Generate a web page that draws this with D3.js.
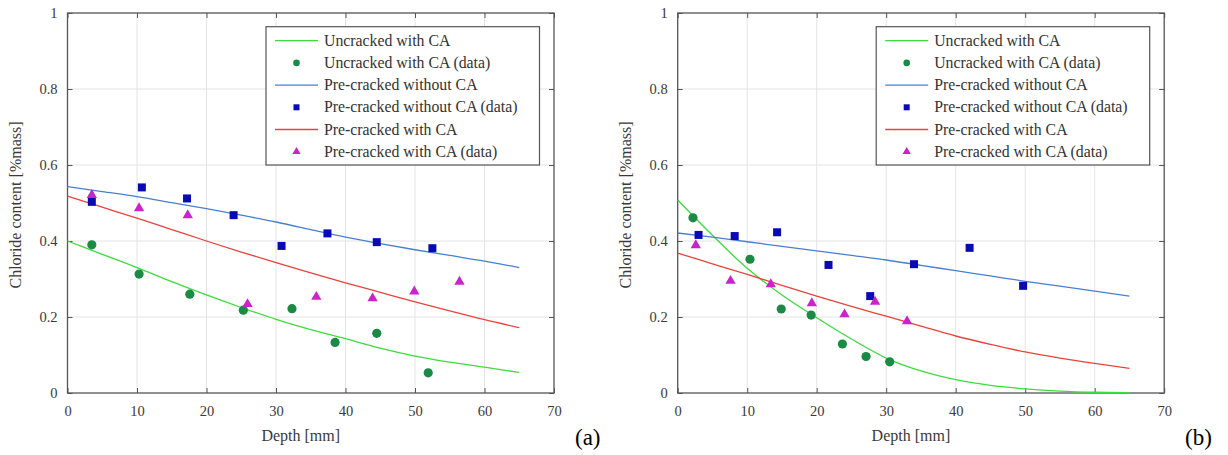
<!DOCTYPE html>
<html>
<head>
<meta charset="utf-8">
<script src="https://cdn.jsdelivr.net/npm/d3@7"></script>
<style>
  html, body { margin: 0; padding: 0; background: #ffffff; }
  svg { display: block; }
</style>
</head>
<body>
<svg id="chart" width="1228" height="455"></svg>
<script>
// ---------- Tick labels ----------
const depthTicks = [0, 10, 20, 30, 40, 50, 60, 70];
const chlorideTicks = [0, 0.2, 0.4, 0.6, 0.8, 1];
const chlorideTickLabels = ["0", "0.2", "0.4", "0.6", "0.8", "1"];
const xAxisTitle = "Depth [mm]";
const yAxisTitle = "Chloride content [%mass]";
const panelLabels = ["(a)", "(b)"];
const legendLabels = [
  "Uncracked with CA",
  "Uncracked with CA (data)",
  "Pre-cracked without CA",
  "Pre-cracked without CA (data)",
  "Pre-cracked with CA",
  "Pre-cracked with CA (data)"
];

// ---------- Panel (a) ----------
// model curves
const aCurveDepth          = [0, 5, 10, 15, 20, 25, 30, 35, 40, 45, 50, 55, 60, 65];
const aUncrackedCA         = [0.400, 0.365, 0.330, 0.293, 0.258, 0.225, 0.194, 0.167, 0.143, 0.118, 0.097, 0.081, 0.068, 0.054];
const aPreNoCA             = [0.543, 0.530, 0.517, 0.501, 0.485, 0.468, 0.450, 0.430, 0.410, 0.393, 0.377, 0.362, 0.347, 0.330];
const aPreCA               = [0.518, 0.489, 0.460, 0.430, 0.400, 0.371, 0.343, 0.316, 0.290, 0.265, 0.240, 0.216, 0.193, 0.172];
// measured data
const aUncrackedDataDepth  = [3.5, 10.3, 17.6, 25.3, 32.3, 38.5, 44.5, 51.9];
const aUncrackedDataValue  = [0.390, 0.313, 0.260, 0.218, 0.222, 0.133, 0.157, 0.053];
const aPreNoCADataDepth    = [3.5, 10.7, 17.2, 23.9, 30.8, 37.4, 44.5, 52.5];
const aPreNoCADataValue    = [0.503, 0.541, 0.512, 0.468, 0.387, 0.420, 0.397, 0.381];
const aPreCADataDepth      = [3.5, 10.3, 17.3, 25.9, 35.8, 43.9, 49.9, 56.4];
const aPreCADataValue      = [0.521, 0.486, 0.468, 0.234, 0.253, 0.249, 0.267, 0.293];

// ---------- Panel (b) ----------
const bCurveDepth          = [0, 5, 10, 15, 20, 25, 30, 35, 40, 45, 50, 55, 60, 65];
const bUncrackedCA         = [0.508, 0.415, 0.328, 0.258, 0.198, 0.142, 0.092, 0.058, 0.035, 0.020, 0.011, 0.005, 0.002, 0.001];
const bPreNoCA             = [0.421, 0.410, 0.398, 0.386, 0.374, 0.362, 0.350, 0.336, 0.322, 0.308, 0.294, 0.281, 0.268, 0.255];
const bPreCA               = [0.368, 0.340, 0.312, 0.283, 0.255, 0.228, 0.202, 0.176, 0.150, 0.128, 0.108, 0.092, 0.078, 0.065];
const bUncrackedDataDepth  = [2.2, 10.4, 14.9, 19.2, 23.7, 27.1, 30.5];
const bUncrackedDataValue  = [0.461, 0.352, 0.221, 0.205, 0.129, 0.096, 0.082];
const bPreNoCADataDepth    = [3.0, 8.2, 14.3, 21.7, 27.7, 34.0, 42.0, 49.7];
const bPreNoCADataValue    = [0.416, 0.413, 0.423, 0.337, 0.255, 0.339, 0.382, 0.282];
const bPreCADataDepth      = [2.6, 7.6, 13.4, 19.3, 24.0, 28.4, 33.0];
const bPreCADataValue      = [0.389, 0.295, 0.286, 0.236, 0.207, 0.240, 0.189];

// ---------- Styles ----------
const FONT = "'Liberation Serif', Tinos, 'Times New Roman', 'DejaVu Serif', serif";
const colors = {
  uncLine: "#3ddc3d",
  uncDot: "#1a8a45",
  preNoLine: "#4a7fcf",
  preNoDot: "#0a0ab4",
  preLine: "#e8443c",
  preDot: "#cc22cc"
};

const svg = d3.select("#chart").attr("font-family", FONT);
const W = 486.5, H = 380, TOP = 13;

const panels = [
  {
    left: 67.5, label: panelLabels[0], labelX: 575,
    curves: [
      {d: aCurveDepth, v: aUncrackedCA, c: colors.uncLine},
      {d: aCurveDepth, v: aPreNoCA, c: colors.preNoLine},
      {d: aCurveDepth, v: aPreCA, c: colors.preLine}
    ],
    circles: {d: aUncrackedDataDepth, v: aUncrackedDataValue},
    squares: {d: aPreNoCADataDepth, v: aPreNoCADataValue},
    triangles: {d: aPreCADataDepth, v: aPreCADataValue}
  },
  {
    left: 677.7, label: panelLabels[1], labelX: 1185,
    curves: [
      {d: bCurveDepth, v: bUncrackedCA, c: colors.uncLine},
      {d: bCurveDepth, v: bPreNoCA, c: colors.preNoLine},
      {d: bCurveDepth, v: bPreCA, c: colors.preLine}
    ],
    circles: {d: bUncrackedDataDepth, v: bUncrackedDataValue},
    squares: {d: bPreNoCADataDepth, v: bPreNoCADataValue},
    triangles: {d: bPreCADataDepth, v: bPreCADataValue}
  }
];

panels.forEach(p => {
  const x = d3.scaleLinear().domain([0, 70]).range([p.left, p.left + W]);
  const y = d3.scaleLinear().domain([0, 1]).range([TOP + H, TOP]);
  const g = svg.append("g");

  // grid
  g.append("g").selectAll("line").data(depthTicks.slice(1, -1)).join("line")
    .attr("x1", d => x(d)).attr("x2", d => x(d))
    .attr("y1", TOP).attr("y2", TOP + H)
    .attr("stroke", "#e4e4e4").attr("stroke-width", 1);
  g.append("g").selectAll("line").data(chlorideTicks.slice(1, -1)).join("line")
    .attr("y1", d => y(d)).attr("y2", d => y(d))
    .attr("x1", p.left).attr("x2", p.left + W)
    .attr("stroke", "#e4e4e4").attr("stroke-width", 1);

  // axes
  const xAxis = d3.axisBottom(x).tickValues(depthTicks).tickSize(-5).tickPadding(13)
    .tickFormat(d3.format("d"));
  const gx = g.append("g").attr("transform", `translate(0,${TOP + H})`).call(xAxis);
  const yAxis = d3.axisLeft(y).tickValues(chlorideTicks).tickSize(-5).tickPadding(10)
    .tickFormat((d, i) => chlorideTickLabels[i]);
  const gy = g.append("g").attr("transform", `translate(${p.left},0)`).call(yAxis);
  const xTop = d3.axisTop(x).tickValues(depthTicks).tickSize(-5).tickFormat("");
  const gxt = g.append("g").attr("transform", `translate(0,${TOP})`).call(xTop);
  const yRight = d3.axisRight(y).tickValues(chlorideTicks).tickSize(-5).tickFormat("");
  const gyr = g.append("g").attr("transform", `translate(${p.left + W},0)`).call(yRight);
  [gx, gy, gxt, gyr].forEach(a => {
    a.attr("font-family", FONT).attr("font-size", 14.5);
    a.select(".domain").remove();
    a.selectAll(".tick line").attr("stroke", "#555");
    a.selectAll(".tick text").attr("fill", "#3a3a3a");
  });

  g.append("rect").attr("x", p.left).attr("y", TOP).attr("width", W).attr("height", H)
    .attr("fill", "none").attr("stroke", "#555").attr("stroke-width", 1.3);

  // curves
  const line = d3.line().curve(d3.curveMonotoneX);
  p.curves.forEach(c => {
    g.append("path")
      .attr("d", line(c.d.map((d, i) => [x(d), y(c.v[i])])))
      .attr("fill", "none").attr("stroke", c.c).attr("stroke-width", 1.3);
  });

  // markers
  g.append("g").selectAll("circle").data(p.circles.d).join("circle")
    .attr("cx", d => x(d)).attr("cy", (d, i) => y(p.circles.v[i])).attr("r", 4.6)
    .attr("fill", colors.uncDot);
  g.append("g").selectAll("rect").data(p.squares.d).join("rect")
    .attr("x", d => x(d) - 4).attr("y", (d, i) => y(p.squares.v[i]) - 4)
    .attr("width", 8).attr("height", 8).attr("fill", colors.preNoDot);
  const tri = d3.symbol().type(d3.symbolTriangle).size(46);
  g.append("g").selectAll("path").data(p.triangles.d).join("path")
    .attr("transform", (d, i) => `translate(${x(d)},${y(p.triangles.v[i])})`)
    .attr("d", tri()).attr("fill", colors.preDot);

  // axis titles
  g.append("text").attr("x", p.left + W / 2 - 10).attr("y", 441)
    .attr("text-anchor", "middle").attr("fill", "#3a3a3a")
    .attr("font-family", FONT).attr("font-size", 16)
    .text(xAxisTitle);
  g.append("text")
    .attr("transform", `translate(${p.left - 47},${TOP + H / 2 + 2}) rotate(-90)`)
    .attr("text-anchor", "middle").attr("fill", "#3a3a3a")
    .attr("font-family", FONT).attr("font-size", 16)
    .text(yAxisTitle);

  // panel label
  g.append("text").attr("x", p.labelX).attr("y", 445).attr("fill", "#000")
    .attr("font-family", FONT).attr("font-size", 23).text(p.label);

  // legend
  const lx = p.left + 198.5, ly = 26.7, lw = 273.5, lh = 138.3;
  const lg = g.append("g");
  lg.append("rect").attr("x", lx).attr("y", ly).attr("width", lw).attr("height", lh)
    .attr("fill", "#fff").attr("stroke", "#555").attr("stroke-width", 1.2);
  const rowY = i => 40.7 + i * 22.2;
  const sx0 = lx + 9, sx1 = lx + 52, sxm = (sx0 + sx1) / 2;
  [[0, colors.uncLine], [2, colors.preNoLine], [4, colors.preLine]].forEach(([i, c]) => {
    lg.append("line").attr("x1", sx0).attr("x2", sx1).attr("y1", rowY(i)).attr("y2", rowY(i))
      .attr("stroke", c).attr("stroke-width", 1.3);
  });
  lg.append("circle").attr("cx", sxm).attr("cy", rowY(1)).attr("r", 3.3).attr("fill", colors.uncDot);
  lg.append("rect").attr("x", sxm - 3).attr("y", rowY(3) - 3).attr("width", 6).attr("height", 6)
    .attr("fill", colors.preNoDot);
  lg.append("path").attr("transform", `translate(${sxm},${rowY(5)})`)
    .attr("d", d3.symbol().type(d3.symbolTriangle).size(30)()).attr("fill", colors.preDot);
  legendLabels.forEach((t, i) => {
    lg.append("text").attr("x", lx + 58).attr("y", rowY(i) + 5)
      .attr("fill", "#333").attr("font-family", FONT).attr("font-size", 15.8).text(t);
  });
});
</script>
</body>
</html>
